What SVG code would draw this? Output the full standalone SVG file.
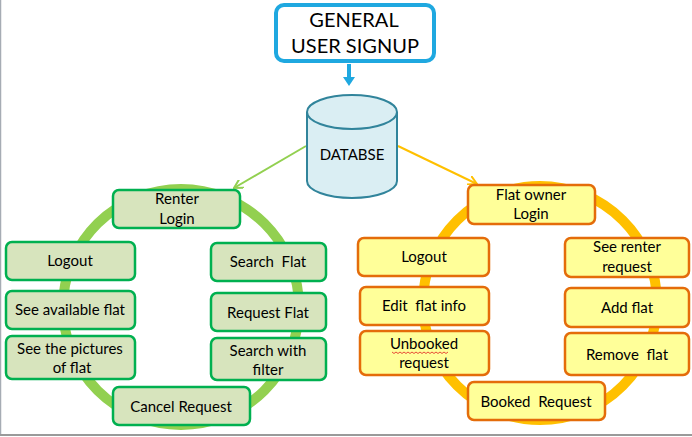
<svg xmlns="http://www.w3.org/2000/svg" width="692" height="437" viewBox="0 0 692 437">
<defs>
<style>
text{font-family:Lato,"Open Sans","Liberation Sans",sans-serif;font-size:15px;fill:#000;text-anchor:middle}
.g rect{fill:#d7e4bd;stroke:#00b050;stroke-width:2.5}
.o rect{fill:#ffff99;stroke:#e46c0a;stroke-width:2.5}
</style>
<marker id="ag" viewBox="0 0 10 10" refX="9" refY="5" markerWidth="10" markerHeight="10" orient="auto" markerUnits="userSpaceOnUse"><path d="M0,0 L9,5 L0,10" fill="none" stroke="#92d050" stroke-width="2"/></marker>
<marker id="ao" viewBox="0 0 10 10" refX="9" refY="5" markerWidth="10" markerHeight="10" orient="auto" markerUnits="userSpaceOnUse"><path d="M0,0 L9,5 L0,10" fill="none" stroke="#ffc000" stroke-width="2"/></marker>
</defs>
<rect width="692" height="437" fill="#fff"/>
<line x1="0.5" y1="0" x2="0.5" y2="436" stroke="#a6acb4" stroke-width="1.5"/>
<line x1="0" y1="435" x2="692" y2="435" stroke="#9a9a9a" stroke-width="2"/>
<g id="rings">
<circle cx="181" cy="307" r="118" fill="none" stroke="#92d050" stroke-width="10"/>
<circle cx="540" cy="303" r="117" fill="none" stroke="#ffc000" stroke-width="10"/>
</g>
<g id="connectors">
<line x1="349" y1="64" x2="349" y2="78" stroke="#1fa8e0" stroke-width="4"/>
<polygon points="343,77 355,77 349,86" fill="#1fa8e0"/>
<line x1="306" y1="146" x2="234" y2="188" stroke="#92d050" stroke-width="2" marker-end="url(#ag)"/>
<line x1="398" y1="146" x2="477" y2="184" stroke="#ffc000" stroke-width="2" marker-end="url(#ao)"/>
</g>
<g id="signup">
<rect x="276" y="5" width="158" height="56" rx="8" fill="#fff" stroke="#1fa8e0" stroke-width="4"/>
<text x="354" y="27" style="font-size:20px">GENERAL</text>
<text x="355" y="53" style="font-size:20px">USER SIGNUP</text>
</g>
<g id="database">
<path d="M307,112 L307,181 A45,17 0 0 0 397,181 L397,112" fill="#daeef3" stroke="#31849b" stroke-width="2"/>
<ellipse cx="352" cy="112" rx="45" ry="17" fill="#daeef3" stroke="#31849b" stroke-width="2"/>
<text x="352" y="160">DATABSE</text>
</g>
<g id="renter-login" class="g"><rect x="113" y="190" width="127" height="38" rx="6"/><text x="177" y="204">Renter</text><text x="177" y="224">Login</text></g>
<g id="r-logout" class="g"><rect x="6" y="242" width="129" height="38" rx="6"/><text x="70" y="266">Logout</text></g>
<g id="r-available" class="g"><rect x="6" y="291" width="129" height="38" rx="6"/><text x="70" y="315">See available flat</text></g>
<g id="r-pictures" class="g"><rect x="6" y="336" width="129" height="43" rx="6"/><text x="70" y="354">See the pictures</text><text x="72" y="373">of flat</text></g>
<g id="r-search" class="g"><rect x="211" y="243" width="115" height="38" rx="6"/><text x="268" y="267" xml:space="preserve">Search  Flat</text></g>
<g id="r-request" class="g"><rect x="211" y="293" width="115" height="38" rx="6"/><text x="268" y="318">Request Flat</text></g>
<g id="r-filter" class="g"><rect x="211" y="338" width="115" height="42" rx="6"/><text x="268" y="356">Search with</text><text x="268" y="375">filter</text></g>
<g id="r-cancel" class="g"><rect x="113" y="387" width="137" height="38" rx="6"/><text x="181" y="412">Cancel Request</text></g>
<g id="owner-login" class="o"><rect x="468" y="185" width="127" height="39" rx="6"/><text x="531" y="200">Flat owner</text><text x="531" y="219">Login</text></g>
<g id="o-logout" class="o"><rect x="358" y="238" width="131" height="38" rx="6"/><text x="424" y="262">Logout</text></g>
<g id="o-edit" class="o"><rect x="360" y="287" width="129" height="38" rx="6"/><text x="424" y="311" xml:space="preserve">Edit  flat info</text></g>
<g id="o-unbooked" class="o"><rect x="360" y="331" width="129" height="44" rx="6"/><text x="424" y="349">Unbooked</text><text x="424" y="368">request</text><path d="M392,352 l2,1.5 l2,-1.5 l2,1.5 l2,-1.5 l2,1.5 l2,-1.5 l2,1.5 l2,-1.5 l2,1.5 l2,-1.5 l2,1.5 l2,-1.5 l2,1.5 l2,-1.5 l2,1.5 l2,-1.5 l2,1.5 l2,-1.5 l2,1.5 l2,-1.5 l2,1.5 l2,-1.5 l2,1.5 l2,-1.5 l2,1.5 l2,-1.5 l2,1.5 l2,-1.5" fill="none" stroke="#e02020" stroke-width="0.8"/></g>
<g id="o-see" class="o"><rect x="565" y="238" width="124" height="39" rx="6"/><text x="627" y="252">See renter</text><text x="627" y="272">request</text></g>
<g id="o-add" class="o"><rect x="565" y="288" width="124" height="39" rx="6"/><text x="627" y="313">Add flat</text></g>
<g id="o-remove" class="o"><rect x="565" y="333" width="124" height="42" rx="6"/><text x="627" y="360" xml:space="preserve">Remove  flat</text></g>
<g id="o-booked" class="o"><rect x="468" y="382" width="137" height="38" rx="6"/><text x="536" y="407" xml:space="preserve">Booked  Request</text></g>
</svg>
